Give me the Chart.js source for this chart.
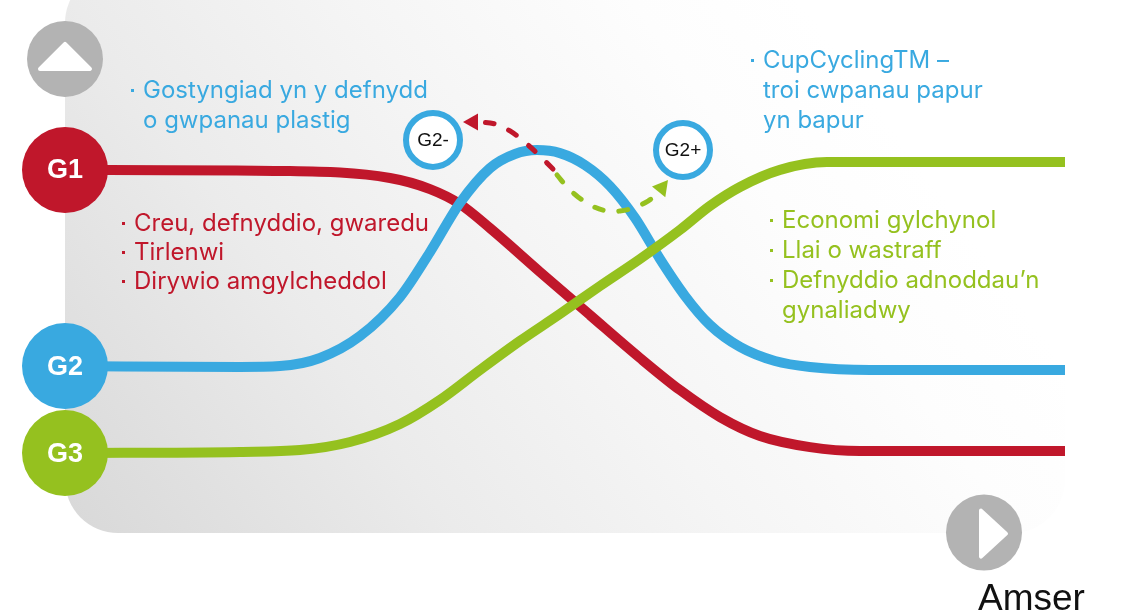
<!DOCTYPE html>
<html lang="cy">
<head>
<meta charset="utf-8">
<title>G1 G2 G3 - Amser</title>
<script src="https://cdn.jsdelivr.net/npm/chart.js@4.4.1/dist/chart.umd.min.js"></script>
<style>
  html, body { margin: 0; padding: 0; background: #fff; }
  #wrap { width: 1141px; height: 616px; }
</style>
</head>
<body>
<div id="wrap"><canvas id="genChart" width="1141" height="616"></canvas></div>
<script>
(function() {
    'use strict';

    // Series (time 0-100, level 0-100)
    const seriesNames = ['G1', 'G2', 'G3'];
    const timeG1 = [0, 22.5, 32.5, 36.5, 39.5, 42.5, 47.5, 52.5, 57.5, 61.5, 65.5, 69.5, 74.5, 79.5, 100];
    const levelG1 = [96.7, 96.3, 94, 90.3, 85.3, 77.3, 62.7, 48.3, 34, 23.3, 14.3, 8, 4.3, 3, 3];
    const timeG2 = [0, 17.5, 21.5, 25.5, 29.5, 33.5, 36.5, 39.5, 42.5, 45, 47.2, 49.5, 52, 54.5, 57, 59.5, 62, 64.5, 67.5, 71, 74.5, 80.5, 100];
    const levelG2 = [31.3, 31, 31.3, 34, 41.3, 54.3, 69.3, 85.7, 97.3, 102, 103.3, 102.3, 98.3, 91.3, 80.7, 67, 54.7, 45, 37.7, 33, 31, 30, 30];
    const timeG3 = [0, 17.5, 23.5, 28.5, 33.5, 37.5, 41.5, 45.5, 49.5, 53.5, 57.5, 61.5, 64.5, 67.5, 71.5, 76.2, 100];
    const levelG3 = [2.3, 2.7, 3.3, 6, 12, 20, 30, 39.7, 48.7, 58, 67, 76.7, 84.7, 91, 96.7, 99.3, 99.3];

    // G2 split: dashed paths from the G2 peak
    const markerNames = ['G2-', 'G2+'];
    const markerTime = [36.8, 61.8];
    const markerLevel = [106.7, 103.3];
    const timeG2minus = [48.8, 47.5, 46.3, 44.5, 43, 41.5];
    const levelG2minus = [97, 101.3, 105, 109.7, 112, 112.7];
    const tipG2minus = [39.8, 112.7];
    const timeG2plus = [49.2, 50.3, 51.3, 52.7, 54.2, 55.5, 56.8, 58.3, 59.2];
    const levelG2plus = [95, 90.7, 87.7, 84.7, 83, 83, 84, 86.3, 88.7];
    const tipG2plus = [60.3, 93.3];

    // Notes
    const notesG1 = [['Creu, defnyddio, gwaredu'], ['Tirlenwi'], ['Dirywio amgylcheddol']];
    const notesG2minus = [['Gostyngiad yn y defnydd', 'o gwpanau plastig']];
    const notesG2plus = [['CupCyclingTM –', 'troi cwpanau papur', 'yn bapur']];
    const notesG3 = [['Economi gylchynol'], ['Llai o wastraff'], ['Defnyddio adnoddau’n', 'gynaliadwy']];
    const axisLabel = 'Amser';

    const RED = '#c0172b';
    const BLUE = '#39a9e0';
    const GREEN = '#95c11f';
    const GREY = '#b3b3b3';
    const NOTE_FONT = '24px Inter, "Noto Sans", sans-serif';

    function toPoints(xs, ys) {
        return xs.map((x, i) => ({ x: x, y: ys[i] }));
    }

    function mainLine(label, xs, ys, color) {
        return {
            label: label,
            data: toPoints(xs, ys),
            borderColor: color,
            backgroundColor: color,
            borderWidth: 10,
            cubicInterpolationMode: 'monotone',
            pointRadius: ctx => ctx.dataIndex === 0 ? 43 : 0,
            pointBorderWidth: 0,
            pointBackgroundColor: color,
            clip: false
        };
    }

    function dashLine(label, xs, ys, color) {
        return {
            label: label,
            data: toPoints(xs, ys),
            borderColor: color,
            borderWidth: 5,
            borderDash: [9, 16],
            borderCapStyle: 'round',
            tension: 0.4,
            pointRadius: 0,
            clip: false
        };
    }

    /**
     * Grey panel behind the curves
     */
    const backdrop = {
        id: 'backdrop',
        beforeDraw(chart) {
            const { ctx, scales: { x } } = chart;
            const left = x.getPixelForValue(0);
            const right = x.getPixelForValue(100);
            const top = -30, bottom = 533;
            ctx.save();
            ctx.fillStyle = '#ffffff';
            ctx.fillRect(0, 0, chart.width, chart.height);
            const g = ctx.createLinearGradient(left, bottom, 800, 0);
            g.addColorStop(0, '#d8d8d8');
            g.addColorStop(0.35, '#ebebeb');
            g.addColorStop(0.6, '#f5f5f5');
            g.addColorStop(0.85, '#fdfdfd');
            g.addColorStop(1, '#ffffff');
            ctx.fillStyle = g;
            ctx.beginPath();
            ctx.roundRect(left, top, right - left, bottom - top, 53);
            ctx.fill();
            ctx.restore();
        }
    };

    function drawArrowHead(ctx, from, tip, color) {
        const ang = Math.atan2(tip.y - from.y, tip.x - from.x);
        const len = 15, half = 8.5;
        const bx = tip.x - Math.cos(ang) * len;
        const by = tip.y - Math.sin(ang) * len;
        ctx.fillStyle = color;
        ctx.beginPath();
        ctx.moveTo(tip.x, tip.y);
        ctx.lineTo(bx + Math.sin(ang) * half, by - Math.cos(ang) * half);
        ctx.lineTo(bx - Math.sin(ang) * half, by + Math.cos(ang) * half);
        ctx.closePath();
        ctx.fill();
    }

    function drawNotes(ctx, groups, color, x0, y0, lh) {
        ctx.fillStyle = color;
        ctx.font = NOTE_FONT;
        ctx.textAlign = 'left';
        ctx.textBaseline = 'alphabetic';
        let y = y0;
        groups.forEach(lines => {
            ctx.fillRect(x0 - 12, y - 9, 3, 3);
            lines.forEach(line => {
                ctx.fillText(line, x0, y);
                y += lh;
            });
        });
    }

    /**
     * Labels, markers, arrow heads and notes
     */
    const decorations = {
        id: 'decorations',
        afterDatasetsDraw(chart) {
            const { ctx, scales: { x, y } } = chart;
            ctx.save();

            // circle labels G1/G2/G3
            ctx.fillStyle = '#ffffff';
            ctx.font = 'bold 27px "Liberation Sans", Arial, sans-serif';
            ctx.textAlign = 'center';
            ctx.textBaseline = 'middle';
            seriesNames.forEach(name => {
                const meta = chart.getDatasetMeta(chart.data.datasets.findIndex(d => d.label === name));
                const p = meta.data[0];
                ctx.fillText(name, p.x, p.y + 1);
            });

            // G2- / G2+ labels
            ctx.fillStyle = '#111111';
            ctx.font = '19px "Liberation Sans", Arial, sans-serif';
            const mMeta = chart.getDatasetMeta(chart.data.datasets.findIndex(d => d.label === 'markers'));
            markerNames.forEach((name, i) => {
                const p = mMeta.data[i];
                ctx.fillText(name, p.x, p.y + 1);
            });

            // arrow heads on the dashed paths
            const px = v => ({ x: x.getPixelForValue(v[0]), y: y.getPixelForValue(v[1]) });
            drawArrowHead(ctx, px([timeG2minus[timeG2minus.length - 1], levelG2minus[levelG2minus.length - 1]]), px(tipG2minus), RED);
            drawArrowHead(ctx, px([timeG2plus[timeG2plus.length - 1], levelG2plus[levelG2plus.length - 1]]), px(tipG2plus), GREEN);

            // axis markers
            const up = px([0, 133.7]);
            const right = px([91.9, -24.2]);
            ctx.fillStyle = GREY;
            [up, right].forEach(c => {
                ctx.beginPath();
                ctx.arc(c.x, c.y, 38, 0, Math.PI * 2);
                ctx.fill();
            });
            ctx.fillStyle = '#ffffff';
            ctx.strokeStyle = '#ffffff';
            ctx.lineWidth = 4;
            ctx.lineJoin = 'round';
            ctx.beginPath();
            ctx.moveTo(up.x, up.y - 15);
            ctx.lineTo(up.x + 25, up.y + 10);
            ctx.lineTo(up.x - 25, up.y + 10);
            ctx.closePath();
            ctx.fill();
            ctx.stroke();
            ctx.beginPath();
            ctx.moveTo(right.x - 3, right.y - 22);
            ctx.lineTo(right.x + 22, right.y + 1);
            ctx.lineTo(right.x - 3, right.y + 24);
            ctx.closePath();
            ctx.fill();
            ctx.stroke();

            ctx.fillStyle = '#111111';
            ctx.font = '37px "Liberation Sans", Arial, sans-serif';
            ctx.textAlign = 'left';
            ctx.textBaseline = 'alphabetic';
            ctx.fillText(axisLabel, 978, 610);

            // notes
            drawNotes(ctx, notesG2minus, BLUE, 143, 98, 30);
            drawNotes(ctx, notesG2plus, BLUE, 763, 68, 30);
            drawNotes(ctx, notesG1, RED, 134, 231, 29);
            drawNotes(ctx, notesG3, GREEN, 782, 228, 30);

            ctx.restore();
        }
    };

    const ctx = document.getElementById('genChart');

    // first dataset is drawn on top
    new Chart(ctx, {
        type: 'line',
        data: {
            datasets: [
                dashLine('G2-path', timeG2minus, levelG2minus, RED),
                dashLine('G2+path', timeG2plus, levelG2plus, GREEN),
                {
                    label: 'markers',
                    data: toPoints(markerTime, markerLevel),
                    showLine: false,
                    pointRadius: 27,
                    pointBorderWidth: 6,
                    pointBorderColor: BLUE,
                    pointBackgroundColor: '#ffffff',
                    clip: false
                },
                mainLine('G3', timeG3, levelG3, GREEN),
                mainLine('G2', timeG2, levelG2, BLUE),
                mainLine('G1', timeG1, levelG1, RED)
            ]
        },
        options: {
            responsive: false,
            animation: false,
            events: [],
            layout: {
                padding: { left: 65, right: 76, top: 160, bottom: 156 }
            },
            plugins: {
                legend: { display: false },
                tooltip: { enabled: false }
            },
            scales: {
                x: { type: 'linear', min: 0, max: 100, display: false },
                y: { type: 'linear', min: 0, max: 100, display: false }
            }
        },
        plugins: [backdrop, decorations]
    });
})();
</script>
</body>
</html>
